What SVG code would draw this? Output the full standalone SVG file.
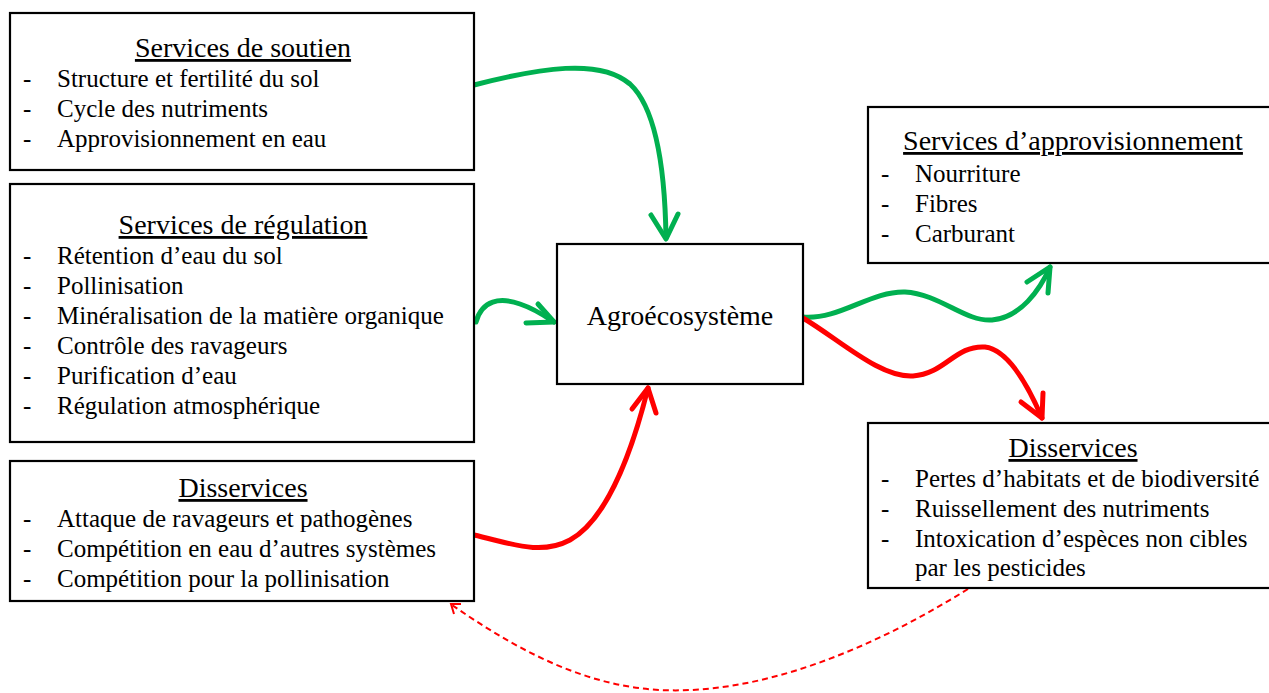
<svg xmlns="http://www.w3.org/2000/svg" width="1269" height="693" viewBox="0 0 1269 693">
<style>
.box{fill:#fff;stroke:#000;stroke-width:2.2}
text{font-family:'Liberation Serif','Times New Roman',serif;font-size:25px;fill:#000}
.t{text-anchor:middle;text-decoration:underline;font-size:28px}
.c{text-anchor:middle;font-size:28px}
.g{fill:none;stroke:#00b050;stroke-width:5;stroke-linecap:round;stroke-linejoin:round}
.r{fill:none;stroke:#ff0000;stroke-width:5;stroke-linecap:round;stroke-linejoin:round}
.d{fill:none;stroke:#ff0000;stroke-width:2;stroke-dasharray:6 4}
</style>
<rect width="1269" height="693" fill="#fff"/>
<g id="connectors">
<path class="g" d="M474,85 C540,68 600,58 630,84 C656,108 665,170 666,238"/>
<path class="g" d="M651,215 L666,239 L678,214"/>
<path class="g" d="M476,322 C482,300 500,297 520,304 C535,309 545,316 554,322"/>
<path class="g" d="M538,304 L554,322 L526,323"/>
<path class="r" d="M474,535 C510,543 540,556 570,540 C610,518 635,440 648,388"/>
<path class="r" d="M632,409 L648,388 L656,413"/>
<path class="g" d="M803,317 C840,320 870,291 905,292 C940,294 965,322 992,320 C1020,318 1040,290 1050,267"/>
<path class="g" d="M1027,282 L1050,267 L1048,293"/>
<path class="r" d="M803,318 C840,340 880,378 913,376 C945,374 955,345 985,347 C1010,350 1030,390 1042,418"/>
<path class="r" d="M1021,402 L1042,418 L1043,393"/>
<path class="d" d="M968,589 C870,650 760,695 660,690 C580,686 510,645 452,605"/>
<path fill="none" stroke="#ff0000" stroke-width="2" d="M454,614 L451,604 L461,604"/>
</g>
<g id="soutien">
<rect class="box" x="10" y="13" width="464" height="157"/>
<text class="t" x="243" y="57">Services de soutien</text>
<text x="23" y="87">-</text><text x="57" y="87">Structure et fertilité du sol</text>
<text x="23" y="117">-</text><text x="57" y="117">Cycle des nutriments</text>
<text x="23" y="147">-</text><text x="57" y="147">Approvisionnement en eau</text>
</g>
<g id="regulation">
<rect class="box" x="10" y="184" width="464" height="258"/>
<text class="t" x="243" y="234">Services de régulation</text>
<text x="23" y="264">-</text><text x="57" y="264">Rétention d’eau du sol</text>
<text x="23" y="294">-</text><text x="57" y="294">Pollinisation</text>
<text x="23" y="324">-</text><text x="57" y="324">Minéralisation de la matière organique</text>
<text x="23" y="354">-</text><text x="57" y="354">Contrôle des ravageurs</text>
<text x="23" y="384">-</text><text x="57" y="384">Purification d’eau</text>
<text x="23" y="414">-</text><text x="57" y="414">Régulation atmosphérique</text>
</g>
<g id="disservices-gauche">
<rect class="box" x="10" y="461" width="464" height="140"/>
<text class="t" x="243" y="497">Disservices</text>
<text x="23" y="527">-</text><text x="57" y="527">Attaque de ravageurs et pathogènes</text>
<text x="23" y="557">-</text><text x="57" y="557">Compétition en eau d’autres systèmes</text>
<text x="23" y="587">-</text><text x="57" y="587">Compétition pour la pollinisation</text>
</g>
<g id="agroecosysteme">
<rect class="box" x="557" y="244" width="246" height="140"/>
<text class="c" x="680" y="325">Agroécosystème</text>
</g>
<g id="approvisionnement">
<rect class="box" x="868" y="107" width="406" height="156"/>
<text class="t" x="1073" y="150">Services d’approvisionnement</text>
<text x="881" y="182">-</text><text x="915" y="182">Nourriture</text>
<text x="881" y="212">-</text><text x="915" y="212">Fibres</text>
<text x="881" y="242">-</text><text x="915" y="242">Carburant</text>
</g>
<g id="disservices-droite">
<rect class="box" x="868" y="423" width="406" height="165"/>
<text class="t" x="1073" y="457">Disservices</text>
<text x="881" y="487">-</text><text x="915" y="487">Pertes d’habitats et de biodiversité</text>
<text x="881" y="517">-</text><text x="915" y="517">Ruissellement des nutriments</text>
<text x="881" y="547">-</text><text x="915" y="547">Intoxication d’espèces non cibles</text>
<text x="915" y="576">par les pesticides</text>
</g>
</svg>
